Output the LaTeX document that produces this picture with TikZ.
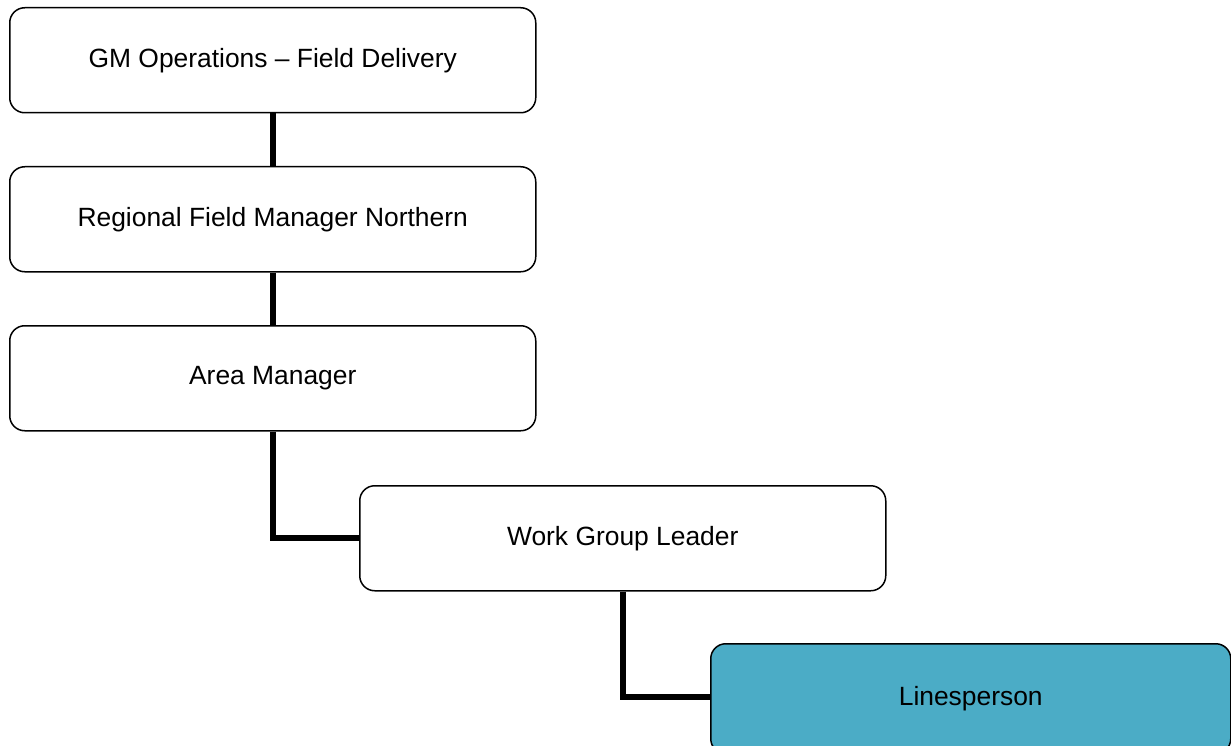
\documentclass[tikz,border=0pt]{standalone}
\usepackage{fontspec}
\setmainfont{Liberation Sans}
\definecolor{teal}{RGB}{75,172,198}
\pgfdeclarelayer{background}
\pgfsetlayers{background,main}
\begin{document}
\begin{tikzpicture}[x=1pt,y=-1pt,
  box/.style={draw=black, line width=1.5pt, rounded corners=15pt, fill=white,
    minimum width=526pt, minimum height=105pt, inner sep=0pt, anchor=north west,
    font=\fontsize{26.4}{30}\selectfont},
  hl/.style={box, fill=teal, minimum width=520pt, minimum height=110pt},
  conn/.style={line width=6pt}]
\clip (0,0) rectangle (1231,746);
\node[box] (b1) at (9,7) {GM Operations – Field Delivery};
\node[box] (b2) at (9,166) {Regional Field Manager Northern};
\node[box] (b3) at (9,325) {Area Manager};
\node[box] (b4) at (359,485) {Work Group Leader};
\node[hl] (b5) at (710,643) {\raisebox{2pt}{Linesperson}};
\begin{pgfonlayer}{background}
\fill[white] (0,0) rectangle (1231,746);
\draw[conn] (b1.south) -- (b2.north);
\draw[conn] (b2.south) -- (b3.north);
\draw[conn] (b3.south) |- (b4.west);
\draw[conn] (b4.south) |- ([yshift=2pt]b5.west);
\end{pgfonlayer}
\end{tikzpicture}
\end{document}
